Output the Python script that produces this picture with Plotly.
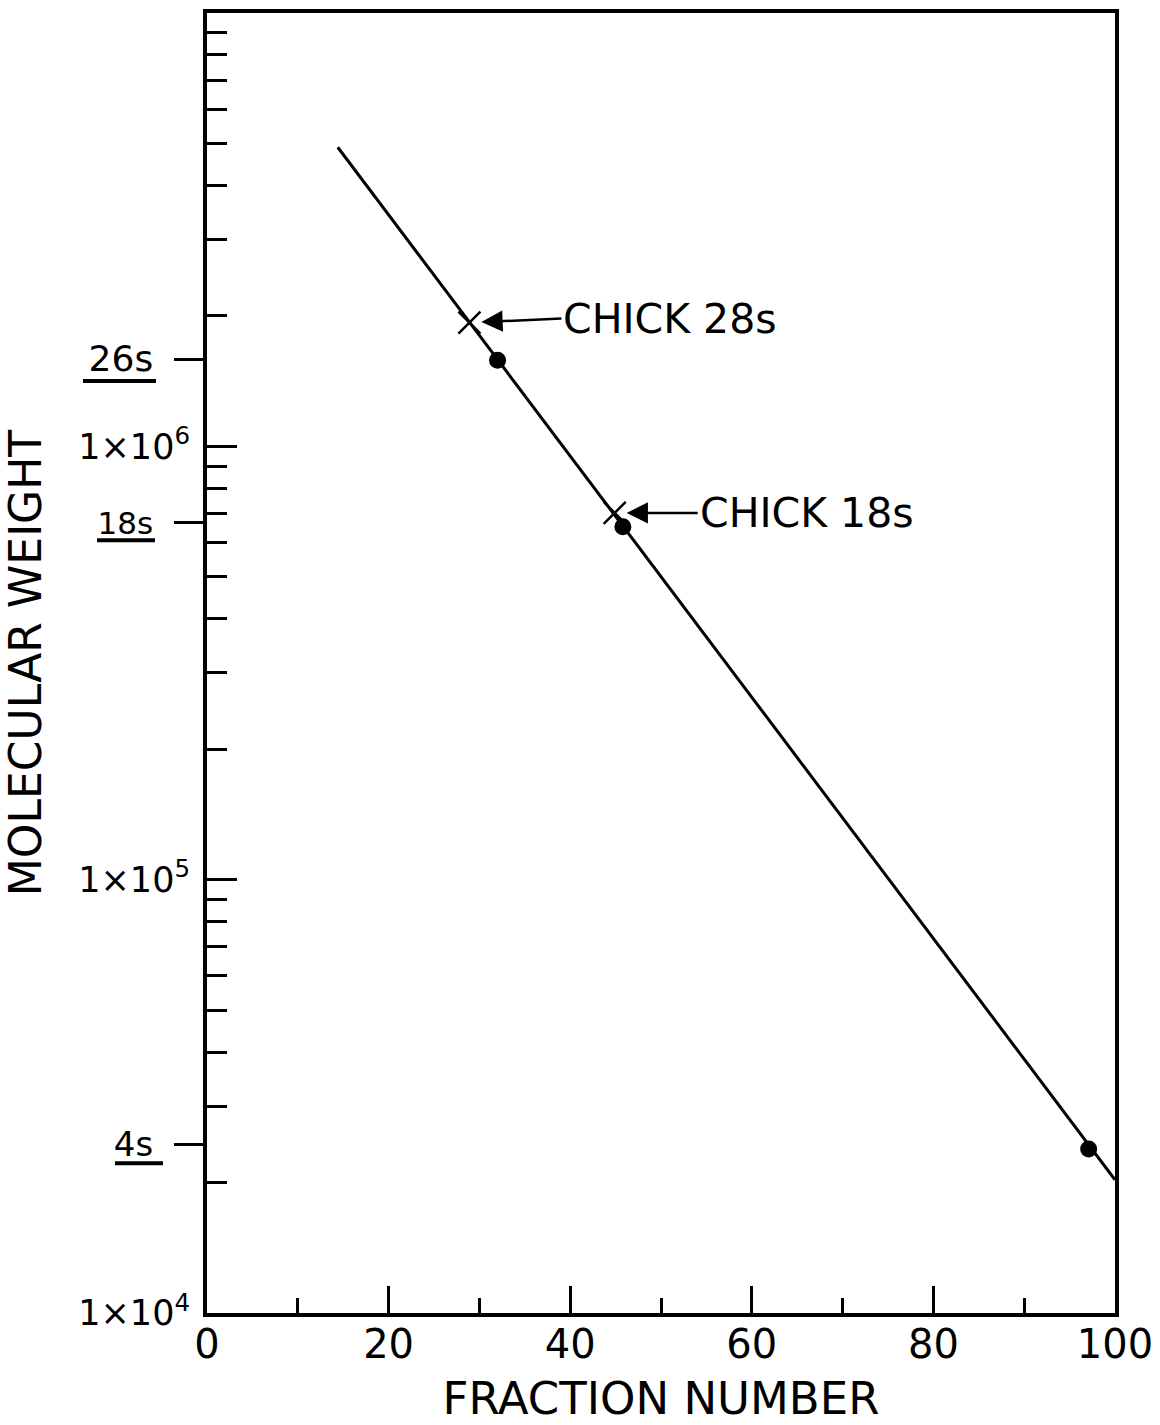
import numpy as np
import plotly.graph_objects as go

# ---- data ----
# calibration line (end points of the drawn straight line)
line_fraction = [14.4, 100.0]
line_mw = [4.9e6, 2.03e4]

# standards (filled circles)
std_fraction = [32.0, 45.8, 97.1]
std_mw = [1.58e6, 6.52e5, 2.39e4]

# chick rRNA (x marks)
chick_fraction = [28.9, 44.9]
chick_mw = [1.93e6, 7.02e5]
chick_labels = ["CHICK 28s", "CHICK 18s"]

# y-axis decade labels
decade_vals = [1e4, 1e5, 1e6]
decade_text = ["1×10<sup>4</sup>", "1×10<sup>5</sup>", "1×10<sup>6</sup>"]
minor_vals = [2e4, 3e4, 4e4, 5e4, 6e4, 7e4, 8e4, 9e4,
              2e5, 3e5, 4e5, 5e5, 6e5, 7e5, 8e5, 9e5,
              2e6, 3e6, 4e6, 5e6, 6e6, 7e6, 8e6, 9e6]

# sedimentation-coefficient labels on the y-axis
s_vals = [1.59e6, 6.68e5, 2.45e4]
s_text = ["26s", "18s", "4s"]
s_sizes = [36, 31, 34]

# x-axis ticks
x_major = [0, 20, 40, 60, 80, 100]
x_major_text = ["0", "20", "40", "60", "80", "100"]
x_minor = [10, 30, 50, 70, 90]

FONT = "DejaVu Sans"
BLACK = "black"

fig = go.Figure()

fig.add_trace(go.Scatter(
    x=line_fraction, y=line_mw, mode="lines",
    line=dict(color=BLACK, width=3), showlegend=False, hoverinfo="skip"))

fig.add_trace(go.Scatter(
    x=std_fraction, y=std_mw, mode="markers",
    marker=dict(symbol="circle", size=17, color=BLACK),
    showlegend=False))

fig.add_trace(go.Scatter(
    x=chick_fraction, y=chick_mw, mode="markers",
    marker=dict(symbol="x-thin", size=22, line=dict(color=BLACK, width=2.5)),
    showlegend=False))

# invisible trace so the secondary (label) axis is built
fig.add_trace(go.Scatter(x=[None], y=[None], yaxis="y2", showlegend=False))

# arrows + labels for the chick rRNA
arrow_offsets = [(92, -4), (83, 0)]
for fx, mw, lab, (axo, ayo) in zip(chick_fraction, chick_mw, chick_labels, arrow_offsets):
    fig.add_annotation(
        x=fx, y=np.log10(mw), xref="x", yref="y",
        text=lab, showarrow=True, arrowhead=2, arrowsize=1.7,
        arrowwidth=2.5, arrowcolor=BLACK, standoff=12,
        ax=axo, ay=ayo, xanchor="left", yanchor="middle",
        font=dict(family=FONT, size=41, color=BLACK))

# underlines below the sedimentation labels
underline_px = [(-124, -51, -22), (-110, -52, -18), (-92, -44, -19)]
for v, (x0, x1, dy) in zip(s_vals, underline_px):
    yp = (np.log10(v) - 4) / 3
    fig.add_shape(type="line", xref="paper", yref="paper",
                  xsizemode="pixel", ysizemode="pixel",
                  xanchor=0, yanchor=yp, x0=x0, x1=x1, y0=dy, y1=dy,
                  line=dict(color=BLACK, width=4))

fig.update_layout(
    width=1160, height=1425,
    margin=dict(l=207, r=45, t=13, b=112, autoexpand=False),
    paper_bgcolor="white", plot_bgcolor="white",
    font=dict(family=FONT, color=BLACK),
    showlegend=False,
    xaxis=dict(
        range=[0, 100], showgrid=False, zeroline=False,
        showline=True, linecolor=BLACK, linewidth=4, mirror=True,
        tickmode="array", tickvals=x_major, ticktext=x_major_text,
        ticks="inside", ticklen=27, tickwidth=3, tickcolor=BLACK,
        ticklabelstandoff=-7,
        tickfont=dict(family=FONT, size=40, color=BLACK),
        minor=dict(tickmode="array", tickvals=x_minor, ticks="inside",
                   ticklen=15, tickwidth=3, tickcolor=BLACK, showgrid=False),
        title=dict(text="FRACTION NUMBER", standoff=26,
                   font=dict(family=FONT, size=45, color=BLACK)),
    ),
    yaxis=dict(
        type="log", range=[4, 7], showgrid=False, zeroline=False,
        showline=True, linecolor=BLACK, linewidth=4, mirror=True,
        tickmode="array", tickvals=decade_vals, ticktext=decade_text,
        ticks="inside", ticklen=30, tickwidth=3, tickcolor=BLACK,
        ticklabelstandoff=6,
        tickfont=dict(family=FONT, size=35, color=BLACK),
        minor=dict(tickmode="array", tickvals=minor_vals, ticks="inside",
                   ticklen=20, tickwidth=3, tickcolor=BLACK, showgrid=False),
        title=dict(text="MOLECULAR WEIGHT", standoff=32,
                   font=dict(family=FONT, size=44, color=BLACK)),
    ),
    yaxis2=dict(
        type="log", range=[4, 7], overlaying="y", anchor="x", side="left",
        showgrid=False, zeroline=False, showline=False,
        tickmode="array", tickvals=s_vals,
        ticktext=[f"<span style='font-size:{sz}px'>{t}</span>" for t, sz in zip(s_text, s_sizes)],
        ticks="outside", ticklen=32, tickwidth=3, tickcolor=BLACK,
        ticklabelstandoff=14,
        tickfont=dict(family=FONT, size=34, color=BLACK),
    ),
)

fig.write_html("out.html")
